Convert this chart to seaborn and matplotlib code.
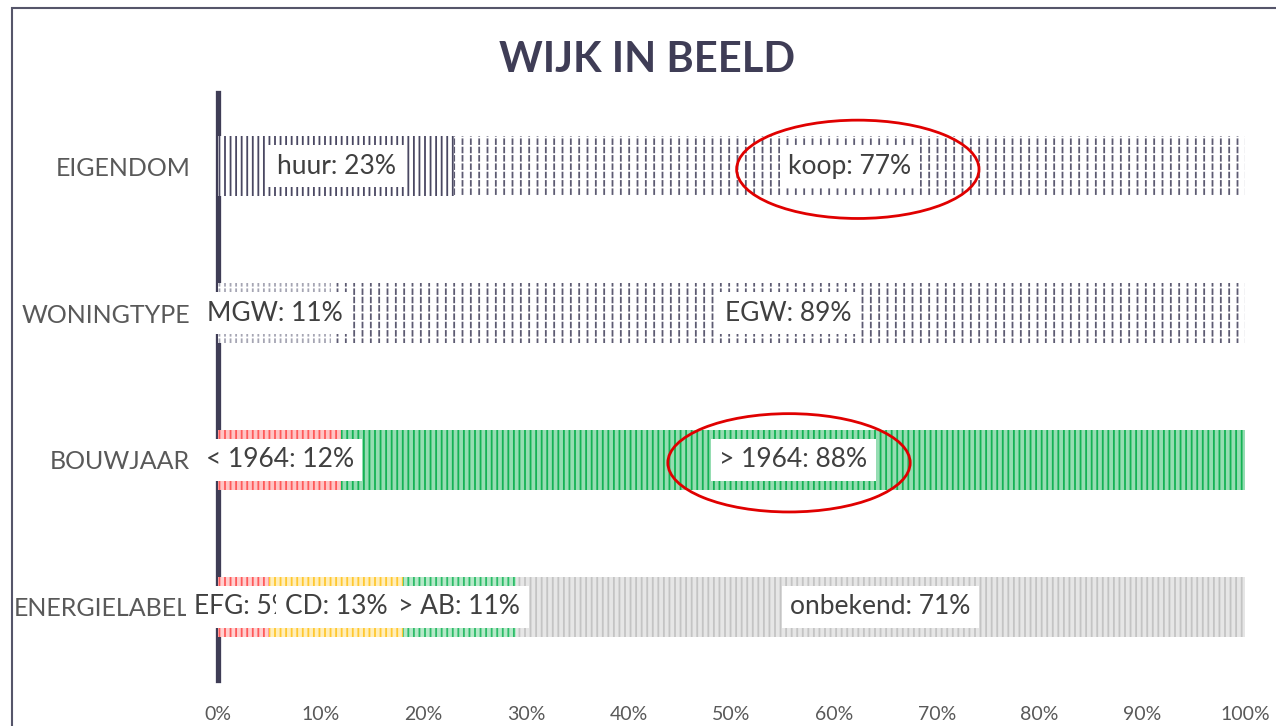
import matplotlib
matplotlib.use("Agg")
import matplotlib.pyplot as plt
import seaborn as sns
from matplotlib.patches import Ellipse, Rectangle

# ---------------- data ----------------
categories = ["EIGENDOM", "WONINGTYPE", "BOUWJAAR", "ENERGIELABEL"]

eigendom_labels = ["huur", "koop"]
eigendom_values = [23, 77]
woningtype_labels = ["MGW", "EGW"]
woningtype_values = [11, 89]
bouwjaar_labels = ["< 1964", "> 1964"]
bouwjaar_values = [12, 88]
energielabel_labels = ["EFG", "CD", "> AB", "onbekend"]
energielabel_values = [5, 13, 11, 71]

tick_values = [0, 10, 20, 30, 40, 50, 60, 70, 80, 90, 100]
tick_labels = ["0%", "10%", "20%", "30%", "40%", "50%", "60%", "70%", "80%", "90%", "100%"]
title = "WIJK IN BEELD"
highlighted = [("EIGENDOM", "koop"), ("BOUWJAAR", "> 1964")]

# ---------------- styles ----------------
NAVY = "#3f3d56"
# (face, hatch colour, hatch, dashed)
styles = {
    "huur": ("white", "#4a4862", "|||", False),
    "koop": ("white", "#5d5b72", "||", True),
    "MGW": ("white", "#a6a6b4", "|||", True),
    "EGW": ("white", "#5d5b72", "||", True),
    "< 1964": ("#ffc4c4", "#ff5a5a", "|||", False),
    "> 1964": ("#95ddb2", "#14b254", "|||", False),
    "EFG": ("#ffd0d0", "#ff5a5a", "|||", False),
    "CD": ("#ffeebb", "#ffc830", "|||", False),
    "> AB": ("#b5e8c8", "#2cbc68", "|||", False),
    "onbekend": ("#e6e6e6", "#c4c4c4", "|||", False),
}
ellipse_shift = {"koop": 0.8, "> 1964": -0.4}

rows = {
    "EIGENDOM": (eigendom_labels, eigendom_values),
    "WONINGTYPE": (woningtype_labels, woningtype_values),
    "BOUWJAAR": (bouwjaar_labels, bouwjaar_values),
    "ENERGIELABEL": (energielabel_labels, energielabel_values),
}

sns.set_theme(style="white")
plt.rcParams["font.family"] = ["Lato", "DejaVu Sans"]
plt.rcParams["hatch.linewidth"] = 1.3

fig = plt.figure(figsize=(12.76, 7.26), dpi=100)
ax = fig.add_axes([218 / 1276, 1 - 680 / 726, 1027 / 1276, 587 / 726])

BAR_W = 0.41


def draw_bar(cat, end, face, ecol, hatch):
    sns.barplot(x=[end], y=[cat], order=categories, orient="h", width=BAR_W,
                color="white", ax=ax, errorbar=None)
    for p in ax.containers[-1]:
        p.set_facecolor(face)
        p.set_edgecolor(ecol)
        p.set_hatch(hatch)
        p.set_linewidth(0)
        p.set_zorder(2)


label_z = 5
for cat in categories:
    labels, values = rows[cat]
    ends = []
    s = 0
    for v in values:
        s += v
        ends.append(s)
    # draw from the right-most cumulative end so that earlier segments cover
    for lab, end in reversed(list(zip(labels, ends))):
        face, ecol, hatch, dashed = styles[lab]
        draw_bar(cat, end, face, ecol, hatch)
        if dashed:
            draw_bar(cat, end, "none", "white", "--")
    # labels
    yi = categories.index(cat)
    start = 0
    for lab, v in zip(labels, values):
        ax.text(start + v / 2, yi, f"{lab}: {v}%", ha="center", va="center",
                fontsize=19, color="#404040", zorder=label_z,
                bbox=dict(boxstyle="square,pad=0.32", fc="white", ec="none"))
        label_z += 1
        if (cat, lab) in highlighted:
            ax.add_patch(Ellipse((start + v / 2 + ellipse_shift[lab], yi + 0.02),
                                 23.6, 0.67, fill=False, ec="#e00000", lw=2,
                                 zorder=50))
        start += v

ax.set_xlim(0, 100)
ax.set_ylim(3.5, -0.5)
ax.set_xticks(tick_values)
ax.set_xticklabels(tick_labels)
ax.set_xlabel("")
ax.set_ylabel("")
ax.tick_params(axis="x", length=0, pad=19, labelsize=14, labelcolor="#595959")
ax.tick_params(axis="y", length=0, pad=20, labelsize=18, labelcolor="#595959")
for side in ["top", "right", "bottom"]:
    ax.spines[side].set_visible(False)
ax.spines["left"].set_color(NAVY)
ax.spines["left"].set_linewidth(3.8)
ax.spines["left"].set_zorder(1)
ax.set_facecolor("none")

fig.text(647 / 1276, 1 - 60 / 726, title, ha="center", va="center",
         fontsize=30, fontweight="bold", color=NAVY)

fig.add_artist(Rectangle((12 / 1276, -0.2), 1.5, 1 - 8 / 726 + 0.2,
                         transform=fig.transFigure, fill=False,
                         ec="#55556a", lw=1.5))

fig.savefig("out.png", dpi=100)
